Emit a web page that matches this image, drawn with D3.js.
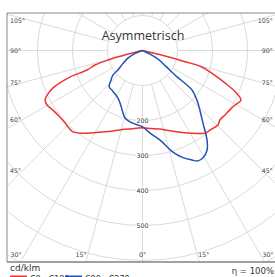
<!DOCTYPE html>
<html><head><meta charset="utf-8">
<script src="https://cdn.jsdelivr.net/npm/d3@7"></script>
<style>html,body{margin:0;padding:0;background:#fff;overflow:hidden}</style>
</head><body><svg id="c" width="275" height="277"></svg>
<script>
const title = "Asymmetrisch";
const unitLabel = "cd/klm";
const efficiencyLabel = "η = 100%";
const seriesNames = ["C0 - C180", "C90 - C270"];
const ringValues = [100, 200, 300, 400, 500, 600, 700, 800];
const ringLabels = [200, 300, 400, 500];
const spokeAngles = [0, 15, 30, 45, 60, 75, 90, 105, 120, 135, 150, 165, 180];
const sideTickAngles = [105, 90, 75, 60, 45];
const bottomTicks = [-30, -15, 0, 15, 30];

// red: C0 (right half) and C180 (left half)
const c0Angles  = [0, 6, 12.6, 20, 28.3, 33, 37.1, 40.3, 45.4, 48.1, 52, 56, 59.5, 63.3, 66, 68.5, 71.5, 74.5, 75.3, 76.5, 78];
const c0Values  = [221, 224, 230, 245, 268, 283, 296, 298, 303, 297, 299, 302, 307, 315, 290, 253, 213, 176, 126, 50, 0];
const c180Angles = [0, 10, 16, 21, 26, 31, 36, 40.5, 44, 47, 51, 56, 60.3, 63.1, 65, 67.3, 69.9, 70.6, 73, 74.6, 76, 78];
const c180Values = [221, 228, 236, 247, 259, 274, 292, 306, 305, 303, 303, 307, 314, 312, 300, 277, 221, 168, 142, 102, 45, 0];
// blue: C90 (right half) and C270 (left half)
const c90Angles  = [0, 5.2, 11.1, 16.7, 20.5, 24.3, 26.7, 29.4, 33, 35.8, 39.8, 43, 46.6, 49, 51.4, 53, 56, 62, 70];
const c90Values  = [218, 237, 261, 303, 326, 343, 353, 352, 339, 315, 270, 243, 218, 200, 181, 116, 80, 45, 0];
const c270Angles = [0, 8.2, 14.5, 17.3, 23.2, 27.3, 32, 37.7, 42.5, 46.9, 50.3, 51.8, 56, 62.6, 68, 75];
const c270Values = [218, 209, 199, 187, 163, 153, 147, 143, 141, 123, 110, 89, 68, 47, 22, 0];

const colors = ["#ee3333", "#2550b4"];

const svg = d3.select("#c");
const cx = 142.5, cy = 50.5;
const frame = {x: 7, y: 13, w: 275, h: 249};
const r = d3.scaleLinear().domain([0, 100]).range([0, 35]);
const rad = d => d * Math.PI / 180;

svg.append("defs").append("clipPath").attr("id", "fc")
  .append("rect").attr("x", frame.x).attr("y", frame.y).attr("width", frame.w).attr("height", frame.h);

const g = svg.append("g").attr("clip-path", "url(#fc)");
const grid = g.append("g").attr("fill", "none").attr("stroke", "#d6d6d6").attr("stroke-width", 0.9);
grid.selectAll("circle").data(ringValues).join("circle")
  .attr("cx", cx).attr("cy", cy).attr("r", d => r(d));
const spokes = [];
spokeAngles.forEach(a => { spokes.push(a); if (a > 0 && a < 180) spokes.push(-a); });
grid.selectAll("line").data(spokes).join("line")
  .attr("x1", a => cx + r(100) * Math.sin(rad(a)))
  .attr("y1", a => cy + r(100) * Math.cos(rad(a)))
  .attr("x2", a => cx + r(1200) * Math.sin(rad(a)))
  .attr("y2", a => cy + r(1200) * Math.cos(rad(a)));

// ring value labels
const rl = g.append("g").attr("font-family", "DejaVu Sans, sans-serif").attr("font-size", 6.3).attr("fill", "#333");
ringLabels.forEach(v => {
  rl.append("rect").attr("x", cx - 6.5).attr("y", cy + r(v) - 4).attr("width", 13).attr("height", 8).attr("fill", "#fff");
  rl.append("text").attr("x", cx).attr("y", cy + r(v)).attr("dy", "0.35em").attr("text-anchor", "middle").text(v);
});

// angle labels
const al = svg.append("g").attr("font-family", "DejaVu Sans, sans-serif").attr("font-size", 6.3).attr("fill", "#444");
sideTickAngles.forEach(a => {
  const y = cy + 120 / Math.tan(rad(a)) + (a > 90 ? 2 : 0);
  al.append("text").attr("x", 10).attr("y", y).attr("dy", "0.35em").text(a + "°");
  al.append("text").attr("x", 273).attr("y", y).attr("dy", "0.35em").attr("text-anchor", "end").text(a + "°");
});
bottomTicks.forEach(a => {
  let x = cx + 229 * Math.tan(rad(a));
  x = Math.max(16, Math.min(268, x));
  al.append("text").attr("x", x).attr("y", 255).attr("dy", "0.35em").attr("text-anchor", "middle").text(Math.abs(a) + "°");
});

// curves
const line = d3.lineRadial().angle(d => d.a).radius(d => r(d.v)).curve(d3.curveCatmullRom.alpha(0.5));
function halfPts(leftA, leftV, rightA, rightV) {
  const pts = [];
  for (let i = leftA.length - 1; i >= 0; i--) pts.push({a: Math.PI + rad(leftA[i]), v: leftV[i]});
  for (let i = 1; i < rightA.length; i++) pts.push({a: Math.PI - rad(rightA[i]), v: rightV[i]});
  return pts;
}
const curves = svg.append("g").attr("transform", `translate(${cx},${cy})`).attr("fill", "none").attr("stroke-width", 1.5);
curves.append("path").attr("d", line(halfPts(c180Angles, c180Values, c0Angles, c0Values))).attr("stroke", colors[0]);
curves.append("path").attr("d", line(halfPts(c270Angles, c270Values, c90Angles, c90Values))).attr("stroke", colors[1]);

// title
svg.append("text").attr("x", 143).attr("y", 40).attr("text-anchor", "middle")
  .attr("font-family", "Open Sans, sans-serif").attr("font-size", 12.5).attr("fill", "#333").text(title);

// frame
svg.append("path").attr("d", `M${frame.x},${frame.y + frame.h}V${frame.y}H${frame.x + frame.w}`)
  .attr("fill", "none").attr("stroke", "#8a8a8a").attr("stroke-width", 1);
svg.append("line").attr("x1", frame.x).attr("x2", 275).attr("y1", frame.y + frame.h).attr("y2", frame.y + frame.h)
  .attr("stroke", "#444").attr("stroke-width", 1.2);

// bottom texts
const bt = svg.append("g").attr("font-family", "DejaVu Sans, sans-serif").attr("fill", "#333");
bt.append("text").attr("x", 10).attr("y", 270.5).attr("font-size", 9).text(unitLabel);
bt.append("text").attr("x", 274).attr("y", 274).attr("font-size", 8.5).attr("text-anchor", "end").text(efficiencyLabel);
const legX = [10, 65];
seriesNames.forEach((n, i) => {
  bt.append("line").attr("x1", legX[i]).attr("x2", legX[i] + 17).attr("y1", 277).attr("y2", 277)
    .attr("stroke", colors[i]).attr("stroke-width", 3);
  bt.append("text").attr("x", legX[i] + 20).attr("y", 282).attr("font-size", 8).text(n);
});
</script></body></html>
